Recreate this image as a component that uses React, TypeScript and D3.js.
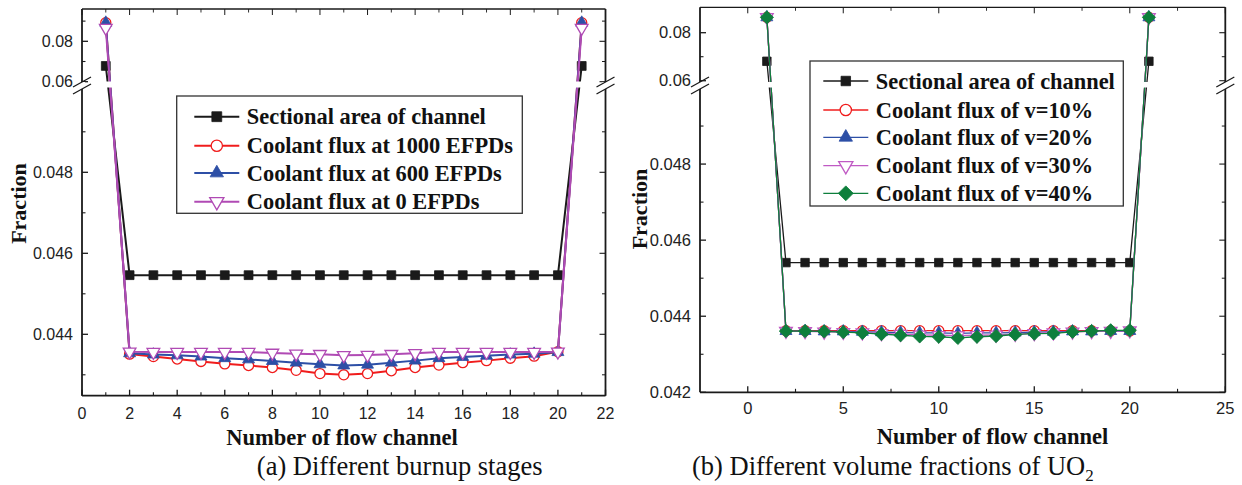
import React from "react";
import * as d3 from "d3";

// ---------------- DATA ----------------
const channels = [1, 2, 3, 4, 5, 6, 7, 8, 9, 10, 11, 12, 13, 14, 15, 16, 17, 18, 19, 20, 21];

// (a) Different burnup stages
const areaA = [0.0678, 0.04546, 0.04546, 0.04546, 0.04546, 0.04546, 0.04546, 0.04546, 0.04546, 0.04546, 0.04546, 0.04546, 0.04546, 0.04546, 0.04546, 0.04546, 0.04546, 0.04546, 0.04546, 0.04546, 0.0678];
const flux1000 = [0.0892, 0.04351, 0.04345, 0.04339, 0.04333, 0.04327, 0.04323, 0.04318, 0.04311, 0.04303, 0.043, 0.04303, 0.0431, 0.04318, 0.04324, 0.0433, 0.04335, 0.04341, 0.04346, 0.04357, 0.0892];
const flux600 = [0.0892, 0.04353, 0.0435, 0.04348, 0.04345, 0.04341, 0.04338, 0.04334, 0.0433, 0.04326, 0.04323, 0.04325, 0.0433, 0.04335, 0.04341, 0.04344, 0.04347, 0.0435, 0.04352, 0.04356, 0.0892];
const flux0 = [0.0866, 0.04357, 0.04356, 0.04356, 0.04356, 0.04356, 0.04356, 0.04354, 0.04352, 0.04351, 0.04348, 0.04349, 0.04351, 0.04353, 0.04356, 0.04356, 0.04356, 0.04356, 0.04356, 0.04357, 0.0866];
const legendA = ["Sectional area of channel", "Coolant flux at 1000 EFPDs", "Coolant flux at 600 EFPDs", "Coolant flux at 0 EFPDs"];

// (b) Different volume fractions of UO2
const areaB = [0.0681, 0.04541, 0.04541, 0.04541, 0.04541, 0.04541, 0.04541, 0.04541, 0.04541, 0.04541, 0.04541, 0.04541, 0.04541, 0.04541, 0.04541, 0.04541, 0.04541, 0.04541, 0.04541, 0.04541, 0.0681];
const fluxV10 = [0.0864, 0.04362, 0.04362, 0.04362, 0.04362, 0.04362, 0.04362, 0.04362, 0.04362, 0.04362, 0.04362, 0.04362, 0.04362, 0.04362, 0.04362, 0.04362, 0.04362, 0.04362, 0.04362, 0.04361, 0.0864];
const fluxV20 = [0.0864, 0.04361, 0.04361, 0.0436, 0.0436, 0.04359, 0.04358, 0.04357, 0.04356, 0.04356, 0.04355, 0.04356, 0.04356, 0.04357, 0.04358, 0.04359, 0.0436, 0.0436, 0.04361, 0.04361, 0.0864];
const fluxV30 = [0.0864, 0.04361, 0.0436, 0.04359, 0.04358, 0.04357, 0.04355, 0.04353, 0.04351, 0.0435, 0.04349, 0.0435, 0.04351, 0.04353, 0.04355, 0.04357, 0.04359, 0.0436, 0.04361, 0.04362, 0.0864];
const fluxV40 = [0.0864, 0.04361, 0.04361, 0.0436, 0.04358, 0.04356, 0.04353, 0.0435, 0.04347, 0.04346, 0.04343, 0.04346, 0.04348, 0.04352, 0.04354, 0.04355, 0.04359, 0.04361, 0.04363, 0.04363, 0.0864];
const legendB = ["Sectional area of channel", "Coolant flux of v=10%", "Coolant flux of v=20%", "Coolant flux of v=30%", "Coolant flux of v=40%"];

const xTicksA = [0, 2, 4, 6, 8, 10, 12, 14, 16, 18, 20, 22];
const xTicksB = [0, 5, 10, 15, 20, 25];
const yLowTicksA = [0.044, 0.046, 0.048];
const yLowTicksB = [0.042, 0.044, 0.046, 0.048];
const yUpTicks = [0.06, 0.08];

const SERIF = "'Liberation Serif', 'Times New Roman', serif";
const SANS = "'Liberation Sans', Arial, sans-serif";

type Series = { values: number[]; color: string; marker: string; fill: string; size: number };

function markerPath(kind: string, size: number) {
  if (kind === "square") return d3.symbol(d3.symbolSquare, size)() as string;
  if (kind === "circle") return d3.symbol(d3.symbolCircle, size)() as string;
  if (kind === "triangle" || kind === "triangleDown") return d3.symbol(d3.symbolTriangle, size)() as string;
  if (kind === "diamond") return d3.symbol(d3.symbolSquare, size)() as string;
  return d3.symbol(d3.symbolCircle, size)() as string;
}
function markerRot(kind: string) {
  if (kind === "triangleDown") return " rotate(180)";
  if (kind === "diamond") return " rotate(45)";
  return "";
}

type PanelProps = {
  left: number; right: number; top: number; bottom: number;
  xDomain: [number, number]; xTicks: number[]; xMinor: number[];
  yDomain: number[]; yRange: number[];
  yLowTicks: number[]; yLowMinor: number[]; yUpMinor: number[];
  breakY: number; mask: [number, number];
  series: Series[]; lineWidth: number;
  legend: string[]; legendBox: [number, number, number, number];
  legendY: number[]; legendLine: [number, number];
  tickFont: number; xLabelY: number; yLabelX: number; yLabelY: number;
  xTitleX: number; xTitleY: number;
};

function Panel(p: PanelProps) {
  const x = d3.scaleLinear().domain(p.xDomain).range([p.left, p.right]);
  const y = d3.scaleLinear().domain(p.yDomain).range(p.yRange);
  const line = d3.line<number>().x((_, i) => x(channels[i])).y((v) => y(v));
  const majLen = 6, minLen = 3.5;
  const gTop = p.breakY - 3.5, gBot = p.breakY + 3.5;
  const axisStroke = "#1a1a1a";
  const breakMark = (x0: number) => (
    <g>
      <rect x={x0 - 3} y={gTop} width={6} height={gBot - gTop} fill="#fff" />
      <line x1={x0 - 9} y1={gTop + 5} x2={x0 + 9} y2={gTop - 5} stroke={axisStroke} strokeWidth={1.3} />
      <line x1={x0 - 9} y1={gBot + 5} x2={x0 + 9} y2={gBot - 5} stroke={axisStroke} strokeWidth={1.3} />
    </g>
  );
  const yTicksAll = [...p.yLowTicks, ...yUpTicks];
  const yMinorAll = [...p.yLowMinor, ...p.yUpMinor];
  return (
    <g>
      {/* series lines */}
      {p.series.map((s, k) => (
        <g key={k}>
          <path d={line(s.values) as string} fill="none" stroke={s.color} strokeWidth={p.lineWidth} />
          {s.values.map((v, i) => (
            <path key={i} d={markerPath(s.marker, s.size)} transform={`translate(${x(channels[i])},${y(v)})${markerRot(s.marker)}`}
              fill={s.fill} stroke={s.color} strokeWidth={s.fill === "#fff" ? 1.3 : 0.8} />
          ))}
        </g>
      ))}
      {/* break mask */}
      <rect x={p.left + 1} y={p.mask[0]} width={p.right - p.left - 2} height={p.mask[1] - p.mask[0]} fill="#fff" />
      {/* frame */}
      <line x1={p.left} y1={p.bottom} x2={p.right} y2={p.bottom} stroke={axisStroke} strokeWidth={1.8} />
      <line x1={p.left} y1={p.top} x2={p.right} y2={p.top} stroke={axisStroke} strokeWidth={1.3} />
      <line x1={p.left} y1={p.top} x2={p.left} y2={p.bottom} stroke={axisStroke} strokeWidth={1.8} />
      <line x1={p.right} y1={p.top} x2={p.right} y2={p.bottom} stroke={axisStroke} strokeWidth={1.8} />
      {/* x ticks */}
      {p.xTicks.map((t) => (
        <g key={"xt" + t}>
          <line x1={x(t)} x2={x(t)} y1={p.bottom} y2={p.bottom - majLen} stroke={axisStroke} strokeWidth={1.3} />
          <line x1={x(t)} x2={x(t)} y1={p.top} y2={p.top + majLen} stroke={axisStroke} strokeWidth={1} />
          <text x={x(t)} y={p.xLabelY} textAnchor="middle" fontFamily={SANS} fontSize={p.tickFont} fill="#222">{t}</text>
        </g>
      ))}
      {p.xMinor.map((t) => (
        <g key={"xm" + t}>
          <line x1={x(t)} x2={x(t)} y1={p.bottom} y2={p.bottom - minLen} stroke={axisStroke} strokeWidth={1.1} />
          <line x1={x(t)} x2={x(t)} y1={p.top} y2={p.top + minLen} stroke={axisStroke} strokeWidth={0.9} />
        </g>
      ))}
      {/* y ticks */}
      {yTicksAll.map((t) => (
        <g key={"yt" + t}>
          <line x1={p.left} x2={p.left + majLen} y1={y(t)} y2={y(t)} stroke={axisStroke} strokeWidth={1.3} />
          <line x1={p.right} x2={p.right - majLen} y1={y(t)} y2={y(t)} stroke={axisStroke} strokeWidth={1.1} />
          <text x={p.left - 9} y={y(t)} dy="0.35em" textAnchor="end" fontFamily={SANS} fontSize={p.tickFont} fill="#222">{d3.format("")(t)}</text>
        </g>
      ))}
      {yMinorAll.map((t) => (
        <g key={"ym" + t}>
          <line x1={p.left} x2={p.left + minLen} y1={y(t)} y2={y(t)} stroke={axisStroke} strokeWidth={1.1} />
          <line x1={p.right} x2={p.right - minLen} y1={y(t)} y2={y(t)} stroke={axisStroke} strokeWidth={1} />
        </g>
      ))}
      {breakMark(p.left)}
      {breakMark(p.right)}
      {/* axis titles */}
      <text x={p.xTitleX} y={p.xTitleY} textAnchor="middle" fontFamily={SERIF} fontWeight="bold" fontSize={22.5} fill="#111">Number of flow channel</text>
      <text transform={`translate(${p.yLabelX},${p.yLabelY}) rotate(-90)`} textAnchor="middle" fontFamily={SERIF} fontWeight="bold" fontSize={22} fill="#111">Fraction</text>
      {/* legend */}
      <rect x={p.legendBox[0]} y={p.legendBox[1]} width={p.legendBox[2] - p.legendBox[0]} height={p.legendBox[3] - p.legendBox[1]} fill="#fff" stroke="#333" strokeWidth={1.3} />
      {p.legend.map((lab, i) => {
        const s = p.series[i];
        const ly = p.legendY[i];
        const mx = (p.legendLine[0] + p.legendLine[1]) / 2;
        return (
          <g key={"lg" + i}>
            <line x1={p.legendLine[0]} x2={p.legendLine[1]} y1={ly} y2={ly} stroke={s.color} strokeWidth={p.lineWidth} />
            <path d={markerPath(s.marker, s.size * 1.25)} transform={`translate(${mx},${ly})${markerRot(s.marker)}`} fill={s.fill} stroke={s.color} strokeWidth={s.fill === "#fff" ? 1.3 : 0.8} />
            <text x={p.legendLine[1] + 7.5} y={ly} dy="0.34em" fontFamily={SERIF} fontWeight="bold" fontSize={22.4} fill="#111">{lab}</text>
          </g>
        );
      })}
    </g>
  );
}

export default function App() {
  const seriesA: Series[] = [
    { values: areaA, color: "#1a1a1a", marker: "square", fill: "#1a1a1a", size: 78 },
    { values: flux1000, color: "#f01c1c", marker: "circle", fill: "#fff", size: 80 },
    { values: flux600, color: "#2d4fa6", marker: "triangle", fill: "#2d4fa6", size: 62 },
    { values: flux0, color: "#b04ab4", marker: "triangleDown", fill: "#fff", size: 70 },
  ];
  const seriesB: Series[] = [
    { values: areaB, color: "#1a1a1a", marker: "square", fill: "#1a1a1a", size: 72 },
    { values: fluxV10, color: "#f01c1c", marker: "circle", fill: "#fff", size: 80 },
    { values: fluxV20, color: "#2d4fa6", marker: "triangle", fill: "#2d4fa6", size: 62 },
    { values: fluxV30, color: "#c05ac4", marker: "triangleDown", fill: "#fff", size: 70 },
    { values: fluxV40, color: "#0e7f3c", marker: "diamond", fill: "#0e7f3c", size: 88 },
  ];
  return (
    <svg width={1242} height={485} style={{ position: "absolute", left: 0, top: 0, background: "#fff" }}>
      <rect x={0} y={0} width={1242} height={485} fill="#fff" />
      <Panel
        left={82} right={605.5} top={9} bottom={395.7}
        xDomain={[0, 22]} xTicks={xTicksA} xMinor={[1, 3, 5, 7, 9, 11, 13, 15, 17, 19, 21]}
        yDomain={[0.042484, 0.05, 0.0597, 0.096]} yRange={[395.7, 91.3, 82.3, 9]}
        yLowTicks={yLowTicksA} yLowMinor={[0.043, 0.045, 0.047, 0.049]} yUpMinor={[0.07, 0.09]}
        breakY={85.5} mask={[81.5, 87.5]}
        series={seriesA} lineWidth={2}
        legend={legendA} legendBox={[176.7, 96, 522.3, 213.3]}
        legendY={[116.7, 145.7, 173, 201.7]} legendLine={[194.3, 239.3]}
        tickFont={16} xLabelY={419} yLabelX={26} yLabelY={203.5}
        xTitleX={342} xTitleY={445}
      />
      <Panel
        left={700} right={1225.3} top={7.3} bottom={392.3}
        xDomain={[-2.5, 25]} xTicks={xTicksB} xMinor={[2.5, 7.5, 12.5, 17.5, 22.5]}
        yDomain={[0.042, 0.05, 0.0598, 0.090583]} yRange={[392.3, 88, 81.2, 7.3]}
        yLowTicks={yLowTicksB} yLowMinor={[0.043, 0.045, 0.047, 0.049]} yUpMinor={[0.07]}
        breakY={85.5} mask={[82, 87.5]}
        series={seriesB} lineWidth={1.3}
        legend={legendB} legendBox={[810, 61, 1123.3, 206]}
        legendY={[81, 110, 137.3, 165.7, 193.3]} legendLine={[823.3, 868.3]}
        tickFont={16.5} xLabelY={414} yLabelX={647} yLabelY={209}
        xTitleX={992.5} xTitleY={443.5}
      />
      <text x={399.7} y={475} textAnchor="middle" fontFamily={SERIF} fontSize={26.5} fill="#111">(a) Different burnup stages</text>
      <text x={692} y={475} fontFamily={SERIF} fontSize={26.5} fill="#111">
        (b) Different volume fractions of UO<tspan fontSize={17} dy={6}>2</tspan>
      </text>
    </svg>
  );
}
